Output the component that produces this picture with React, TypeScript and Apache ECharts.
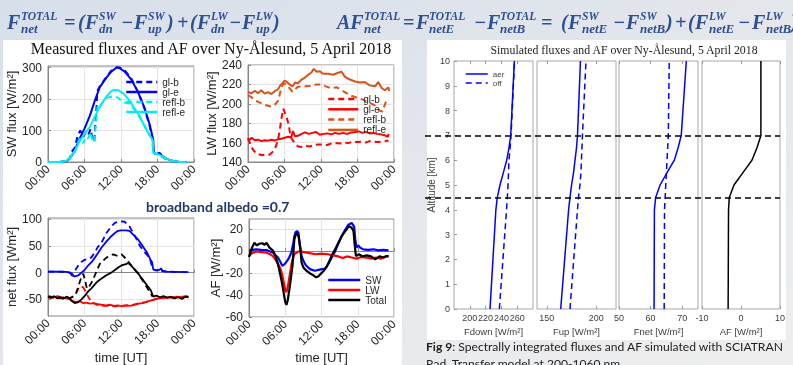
import React, { useEffect, useRef } from 'react';
import * as echarts from 'echarts';

// ---------------- Left figure: measured time series [hour UT, value] ----------------
const TIME_TICKS = [0, 6, 12, 18, 24];

const SW_TICKS = [0, 100, 200, 300];
const SW_GL_B: [number, number][] = [[0,0],[1.9,0],[3.0,2],[3.6,12],[3.8,30],[4.4,45],[4.9,85],[5.3,100],[5.8,80],[6.2,95],[6.6,85],[7.0,105],[7.3,75],[7.6,65],[8.0,180],[8.1,225],[8.5,240],[9.6,270],[10.4,290],[11.3,301],[11.8,300],[12.6,292],[13.7,265],[14.8,222],[15.9,168],[16.7,115],[17.2,65],[17.3,28],[17.8,25],[18.4,30],[18.7,18],[19.5,8],[20.6,2],[21.7,0],[22.8,0]];
const SW_GL_E: [number, number][] = [[0,0],[1.9,0],[3.0,2],[3.6,11],[4.4,36],[5.2,74],[6.0,106],[6.9,148],[7.7,195],[8.5,237],[9.6,268],[10.4,287],[11.3,300],[11.8,298],[12.6,287],[13.7,262],[14.8,222],[15.9,170],[16.7,120],[17.3,71],[17.4,30],[17.8,25],[18.4,28],[18.7,20],[19.5,10],[20.6,3],[21.7,0],[22.8,0]];
const SW_REFL_B: [number, number][] = [[0,0],[1.9,0],[3.0,2],[3.6,12],[4.4,30],[4.9,60],[5.3,75],[5.8,60],[6.2,80],[6.6,75],[7.0,95],[7.3,70],[7.6,62],[8.0,150],[8.2,185],[8.6,180],[9.2,195],[9.8,205],[10.4,207],[11.0,208],[11.6,203],[12.2,192],[12.8,188],[13.4,185],[14.0,172],[14.8,150],[15.9,115],[16.7,85],[17.2,68],[17.3,30],[17.8,25],[18.4,22],[19.5,8],[20.6,2],[21.7,0],[22.8,0]];
const SW_REFL_E: [number, number][] = [[0,0],[1.9,0],[3.0,3],[3.6,15],[4.4,35],[5.2,65],[6.0,90],[6.9,112],[7.7,145],[8.5,175],[9.6,208],[10.4,225],[10.9,229],[11.5,228],[12.4,218],[13.2,200],[14.3,168],[15.1,145],[15.9,112],[16.7,85],[17.2,70],[17.3,30],[17.8,27],[18.4,22],[19.5,10],[20.6,3],[21.7,0],[22.8,0]];

const LW_TICKS = [140, 160, 180, 200, 220, 240];
const LW_GL_B: [number, number][] = [[0,164.5],[0.4,158],[0.8,153],[1.3,149],[1.8,148],[2.4,147],[2.9,148],[3.5,147.5],[4.0,150],[4.5,155],[4.9,162],[5.2,172],[5.5,185],[5.8,195],[6.1,190],[6.4,185],[6.7,178],[7.0,166],[7.4,162],[7.8,158],[8.3,156],[8.9,155.5],[9.5,156.5],[10.2,156],[10.9,157.5],[11.6,158],[12.3,158],[13.0,157.5],[13.7,159],[14.4,159.5],[15.1,159],[15.8,160],[16.5,159.5],[17.2,161],[17.9,160.5],[18.6,161],[19.3,160],[20.0,161.5],[20.7,161],[21.4,160.5],[22.1,161],[22.8,162],[23.1,162]];
const LW_GL_E: [number, number][] = [[0,164.5],[0.3,163],[0.6,165],[1.1,162.5],[1.65,163],[2.2,161.5],[2.75,162.5],[3.3,162],[3.85,163],[4.4,162],[4.95,163.5],[5.5,164],[6.0,165],[6.6,166],[7.1,165.5],[7.4,172],[7.7,166.5],[8.2,167],[8.8,169],[9.4,170.5],[10.0,169],[10.6,170],[11.2,171],[11.8,168],[12.4,169],[13.0,169.5],[13.7,168.5],[14.3,170],[15.0,169],[15.6,170],[16.3,169],[17.0,170.5],[17.6,171],[18.2,171.5],[18.8,170],[19.4,171],[20.0,169.5],[20.6,170],[21.2,169],[21.8,168.5],[22.5,167.5],[23.0,166],[23.1,169]];
const LW_REFL_B: [number, number][] = [[0,209],[0.55,207],[1.1,204],[1.65,202],[2.2,200.5],[2.75,199],[3.3,198],[3.85,197],[4.4,199],[4.95,203],[5.3,212],[5.65,219],[6.0,221],[6.4,219.5],[6.85,216],[7.3,212.5],[7.75,215],[8.2,217.5],[8.8,218],[9.6,218],[10.4,218.5],[11.3,220],[12.0,220],[12.8,218],[13.7,216],[14.6,217],[15.4,214],[16.2,211],[17.1,208],[18.0,206],[19.0,204],[20.0,201],[20.9,198],[21.6,193],[22.1,192],[22.6,201],[23.1,205]];
const LW_REFL_E: [number, number][] = [[0,212.5],[0.55,210.5],[1.1,213.5],[1.65,211],[2.2,214],[2.75,210.5],[3.3,212],[3.85,210],[4.4,213],[4.95,215],[5.3,219],[5.65,221],[6.0,224],[6.4,222.5],[6.85,220],[7.3,218],[7.75,222],[8.2,221],[8.8,225],[9.35,227],[9.9,230],[10.4,232],[10.8,236],[11.3,233],[11.8,233.5],[12.35,231],[13.2,231],[14.0,230],[14.8,232],[15.4,233],[15.9,228],[16.75,225],[17.6,223],[18.4,222],[19.2,222.5],[20.0,219],[20.9,218],[21.4,222.5],[22.0,216],[22.5,214],[23.1,217],[23.2,213]];

const NET_TICKS = [-50, 0, 50, 100];
const NET_SW_B: [number, number][] = [[0,2],[1.5,2],[3.0,1.5],[3.6,0],[4.1,-3],[4.4,3],[4.9,12],[5.5,20],[6.0,24],[6.6,25],[7.1,28],[7.7,38],[8.2,48],[8.8,56],[9.6,74],[10.4,86],[11.0,93],[11.8,96],[12.6,95],[13.4,86],[14.3,68],[15.1,50],[15.9,38],[16.5,30],[16.9,20],[17.2,7],[17.8,4],[18.3,5],[18.6,8],[18.8,3],[19.5,2],[21,1.5],[22.5,1],[23.1,1]];
const NET_SW_E: [number, number][] = [[0,2],[1.5,2],[3.0,1.5],[3.6,0],[3.9,-5],[4.4,-7],[5.0,-5],[5.5,0],[6.0,5],[6.5,12],[7.2,20],[7.7,28],[8.3,38],[8.8,47],[9.6,58],[10.4,68],[11.0,74],[11.5,78],[12.0,79],[12.8,79],[13.4,78],[14.0,71],[14.8,62],[15.6,49],[16.3,37],[16.8,25],[17.1,20],[17.3,6],[17.8,4],[18.3,5],[18.6,8],[18.8,3],[19.5,2],[21,1.5],[22.5,1],[23.1,1]];
const NET_LW_B: [number, number][] = [[0,-46],[1,-47],[2,-48],[3,-46],[3.6,-48],[4.1,-44],[4.6,-38],[5.0,-30],[5.4,-25],[5.8,-28],[6.2,-35],[6.6,-45],[7.2,-55],[8.0,-60],[9.0,-62],[10,-62],[11,-63],[12,-62],[13,-61],[14,-60],[15,-57],[16,-55],[17,-52],[18,-48],[19,-47],[20,-46],[21,-46],[22,-45],[23.1,-45]];
const NET_LW_E: [number, number][] = [[0,-43],[0.8,-46],[1.6,-44],[2.4,-47],[3.0,-48],[3.6,-50],[4.1,-53],[4.6,-55],[5.2,-53],[5.8,-57],[6.3,-56],[6.9,-58],[7.5,-57],[8.2,-59],[8.8,-60],[9.5,-61],[10.2,-60],[10.9,-62],[11.5,-61],[12.2,-63],[12.8,-61],[13.5,-62],[14.2,-60],[14.9,-58],[15.6,-57],[16.3,-54],[17.0,-52],[17.6,-50],[18.3,-48],[19.0,-47],[19.8,-46],[20.5,-47],[21.2,-45],[22.0,-46],[22.6,-44],[23.1,-45]];
const NET_TOT_B: [number, number][] = [[0,-46],[1,-45],[2,-47],[3.0,-46],[3.6,-48],[4.1,-45],[4.6,-40],[5.0,-25],[5.5,-8],[5.8,-2],[6.1,-15],[6.4,-30],[6.8,-25],[7.1,-20],[7.7,-5],[8.5,16],[9.6,28],[10.7,34],[11.5,31],[12.1,34],[12.9,25],[13.7,13],[14.6,1],[15.7,-17],[16.7,-36],[17.2,-45]];
const NET_TOT_E: [number, number][] = [[0,-45],[0.5,-47],[1.0,-44],[1.5,-48],[2.0,-46],[2.5,-49],[3.0,-45],[3.5,-47],[3.8,-52],[4.4,-57],[5.0,-55],[5.5,-50],[6.0,-44],[6.6,-35],[7.1,-30],[7.7,-22],[8.2,-16],[8.8,-11],[9.6,-5],[10.4,0],[11.0,5],[11.6,10],[12.2,14],[12.8,16],[13.2,18],[13.6,14],[14.0,9],[14.6,2],[15.1,-6],[15.7,-15],[16.3,-24],[16.9,-33],[17.3,-45],[17.8,-43],[18.4,-46],[19.0,-44],[19.6,-47],[20.2,-45],[20.8,-48],[21.4,-46],[22.0,-49],[22.6,-45],[23.1,-46]];

const AF_TICKS = [-60, -40, -20, 0, 20];
const AF_SW: [number, number][] = [[0,0.5],[1.2,1.4],[2.0,1],[2.9,0.8],[3.5,-0.5],[4.0,-1.6],[4.4,-4],[4.8,-6],[5.2,-10],[5.5,-13.5],[5.9,-12],[6.3,-9],[6.6,-6.5],[7.0,-1.6],[7.3,6],[7.5,13],[7.7,17],[8.0,18],[8.2,16],[8.4,6],[8.7,-4.6],[9.0,-9],[9.4,-13],[10.1,-16.5],[10.9,-18],[11.7,-17],[12.6,-16],[13.1,-12],[13.7,-6],[14.2,-1],[14.8,7],[15.3,13],[15.9,19],[16.4,23.5],[17.0,25.5],[17.4,22],[17.6,10],[17.8,3],[18.1,5],[18.4,3],[18.9,1.4],[19.7,1],[20.6,1.5],[21.4,0.5],[22.2,1],[23.1,0.5]];
const AF_LW: [number, number][] = [[0,-4.6],[0.5,-2],[1.2,-0.5],[2.0,-1],[2.9,-1.6],[3.5,-3],[4.0,-5],[4.4,-8],[4.8,-12],[5.2,-16],[5.5,-22],[5.8,-30],[6.0,-36],[6.2,-37.5],[6.5,-30],[6.8,-20],[7.1,-10],[7.5,-3],[8.0,-1],[8.5,0],[9.0,-1],[10.0,-2],[11.0,-3],[12.0,-2.5],[13.0,-3],[14.0,-4],[14.8,-5],[15.5,-6.5],[16.2,-5],[17.0,-6],[17.8,-7],[18.6,-5.5],[19.4,-6],[20.2,-7],[21.0,-6],[21.8,-7],[22.6,-5],[23.1,-5]];
const AF_TOTAL: [number, number][] = [[0,-5.5],[0.5,3],[0.9,7.4],[1.3,5],[1.7,6.5],[2.2,7],[2.6,5.5],[2.9,7.4],[3.4,3],[4.0,0],[4.4,-5],[4.8,-12],[5.2,-22],[5.5,-30],[5.8,-40],[6.0,-46.5],[6.2,-49],[6.4,-45],[6.7,-34.5],[7.0,-22],[7.2,-13.5],[7.5,10.4],[7.7,14],[7.9,16.4],[8.2,13.4],[8.5,2],[8.7,-10.6],[9.0,-15],[9.5,-18],[10.0,-20],[10.6,-22],[11.1,-24],[11.5,-23],[12.0,-20],[12.4,-18],[12.9,-14],[13.4,-8],[13.8,-3],[14.3,2],[14.8,7.4],[15.4,14],[16.0,18.5],[16.5,22.4],[17.0,21],[17.3,18],[17.5,5],[17.7,-4.6],[18.2,-3],[18.8,-5],[19.5,-4],[20.2,-5],[20.9,-7.6],[21.6,-5],[22.3,-6],[22.8,-4.6],[23.1,-5]];

// ---------------- Right figure: simulated profiles vs altitude ----------------
const ALT_TICKS = [0, 1, 2, 3, 4, 5, 6, 7, 8, 9, 10];
const ALT_KM = [0, 4, 4.5, 5, 5.5, 6, 6.5, 7, 10];
const FDOWN_AER = [225.6, 233, 234.8, 238.2, 242.5, 246.7, 249.6, 251.8, 256.4];
const FDOWN_OFF = [237.4, 246.5, 247.5, 248.4, 249, 249.6, 251, 252.2, 256.6];
const FUP_AER = [164, 172, 173.4, 175, 177, 178.5, 180, 181, 184];
const FUP_OFF = [173.4, 181, 182, 183.5, 184.5, 185, 185.5, 186, 189.6];
const FNET_AER = [61.1, 61.2, 61.6, 63, 65.2, 67.5, 68.7, 69.7, 71.3];
const FNET_OFF = [64.3, 64.4, 64.6, 64.8, 65, 65.2, 65.4, 65.6, 65.9];
const AF_PROFILE = [-3.3, -3.2, -3.0, -1.8, 0.5, 2.8, 4.1, 5.1, 5.1];
const LAYER_ALTS = [4.5, 7];
const FDOWN_TICKS = [200, 220, 240, 260];
const FUP_TICKS = [150, 200];
const FNET_TICKS = [50, 60, 70];
const AFP_TICKS = [-10, 0, 10];

// ---------------- Styles ----------------
const SANS = '"Liberation Sans", Arial, sans-serif';
const SERIF = '"Liberation Serif", "Times New Roman", serif';
const MATH = '"Liberation Serif", serif';
const NAVY = '#2f4f93';
const BLUE = '#0000ff';
const CYAN = '#00eef2';
const RED = '#ff0000';
const ORANGE = '#d95319';
const DASH = [6, 4];

type Tok = { t: string; x: number } | { b: string; x: number; sup: string; sub: string; sx: number };
const FORMULA_1: Tok[] = [
  { b: 'F', x: 7, sup: 'TOTAL', sub: 'net', sx: 21 },
  { t: '=', x: 64 }, { t: '(', x: 78 },
  { b: 'F', x: 85, sup: 'SW', sub: 'dn', sx: 99 },
  { t: '−', x: 121 },
  { b: 'F', x: 134, sup: 'SW', sub: 'up', sx: 148 },
  { t: ')', x: 167 }, { t: '+', x: 177 }, { t: '(', x: 190 },
  { b: 'F', x: 197, sup: 'LW', sub: 'dn', sx: 211 },
  { t: '−', x: 229 },
  { b: 'F', x: 242, sup: 'LW', sub: 'up', sx: 256 },
  { t: ')', x: 273 },
];
const FORMULA_2: Tok[] = [
  { b: 'AF', x: 337, sup: 'TOTAL', sub: 'net', sx: 364 },
  { t: '=', x: 403 },
  { b: 'F', x: 416, sup: 'TOTAL', sub: 'netE', sx: 429 },
  { t: '−', x: 474 },
  { b: 'F', x: 487, sup: 'TOTAL', sub: 'netB', sx: 500 },
  { t: '=', x: 541 },
  { t: '(', x: 561 },
  { b: 'F', x: 568, sup: 'SW', sub: 'netE', sx: 582 },
  { t: '−', x: 613 },
  { b: 'F', x: 626, sup: 'SW', sub: 'netB', sx: 640 },
  { t: ')', x: 666 }, { t: '+', x: 675 }, { t: '(', x: 688 },
  { b: 'F', x: 695, sup: 'LW', sub: 'netE', sx: 709 },
  { t: '−', x: 738 },
  { b: 'F', x: 752, sup: 'LW', sub: 'netB', sx: 766 },
  { t: ')', x: 791 },
];

function txt(text: string, x: number, y: number, font: string, fill: string, align = 'left', extra: any = {}) {
  return {
    type: 'text', x, y, z: 50, silent: true,
    style: { text, x: 0, y: 0, font, fill, align, textAlign: align, verticalAlign: 'middle', textVerticalAlign: 'middle', ...extra },
  };
}

function formula(tokens: Tok[]) {
  const els: any[] = [];
  const base = `italic bold 20px ${MATH}`;
  const sup = `italic bold 11.5px ${MATH}`;
  const sub = `italic bold 13px ${MATH}`;
  for (const tk of tokens) {
    if ('t' in tk) els.push(txt(tk.t, tk.x, 22, base, NAVY));
    else {
      els.push(txt(tk.b, tk.x, 22, base, NAVY));
      els.push(txt(tk.sup, tk.sx, 16, sup, NAVY, 'left', { lineHeight: 10 }));
      els.push(txt(tk.sub, tk.sx, 28, sub, NAVY, 'left', { lineHeight: 11 }));
    }
  }
  return els;
}

const timeFmt = (v: number) => (v % 24 === 0 ? '00' : String(v).padStart(2, '0')) + ':00';
const legendFmt = (n: string) => n.split('|')[1];

function line(name: string, data: any[], ax: number, color: string, dashed: boolean, width: number, z = 2) {
  return {
    type: 'line', name, data, xAxisIndex: ax, yAxisIndex: ax, symbol: 'none', showSymbol: false, silent: true, z,
    lineStyle: { color, width, type: dashed ? DASH : 'solid' }, itemStyle: { color },
  };
}

const prof = (vals: number[]) => vals.map((v, i) => [v, ALT_KM[i]]);

function leftX(grid: number, name?: string, gap = 34) {
  return {
    type: 'value', gridIndex: grid, min: 0, max: 24, name, nameLocation: 'middle', nameGap: gap,
    nameTextStyle: { fontFamily: SANS, fontSize: 13, color: '#262626' },
    axisLine: { show: true, lineStyle: { color: '#888' } },
    axisTick: { show: true, inside: true, length: 3, customValues: TIME_TICKS, lineStyle: { color: '#888' } },
    axisLabel: { customValues: TIME_TICKS, formatter: timeFmt, rotate: 45, margin: 5, fontFamily: SANS, fontSize: 12, color: '#262626' },
    splitLine: { show: true, lineStyle: { color: '#e4e4e4' } },
  };
}
function leftY(grid: number, min: number, max: number, ticks: number[], name: string, gap: number) {
  return {
    type: 'value', gridIndex: grid, min, max, name, nameLocation: 'middle', nameGap: gap,
    nameTextStyle: { fontFamily: SANS, fontSize: 13, color: '#262626' },
    axisLine: { show: true, lineStyle: { color: '#888' } },
    axisTick: { show: true, inside: true, length: 3, customValues: ticks, lineStyle: { color: '#888' } },
    axisLabel: { customValues: ticks, margin: 6, fontFamily: SANS, fontSize: 12, color: '#262626' },
    splitLine: { show: true, lineStyle: { color: '#e4e4e4' } },
  };
}
function rightX(grid: number, min: number, max: number, ticks: number[], name: string | undefined, top = false) {
  return {
    type: 'value', gridIndex: grid, min, max, position: top ? 'top' : 'bottom',
    name, nameLocation: 'middle', nameGap: 14,
    nameTextStyle: { fontFamily: SANS, fontSize: 9.5, color: '#404040' },
    axisLine: { show: false },
    axisTick: { show: true, inside: true, length: 3, customValues: ticks, lineStyle: { color: '#999' } },
    axisLabel: { show: !top, customValues: ticks, margin: 4, fontFamily: SANS, fontSize: 9, color: '#404040' },
    splitLine: { show: false },
  };
}
function rightY(grid: number, first: boolean) {
  return {
    type: 'value', gridIndex: grid, min: 0, max: 10,
    name: first ? 'Altitude [km]' : undefined, nameLocation: 'middle', nameGap: 15,
    nameTextStyle: { fontFamily: SANS, fontSize: 10, color: '#404040' },
    axisLine: { show: false },
    axisTick: { show: first, inside: true, length: 3, customValues: ALT_TICKS, lineStyle: { color: '#999' } },
    axisLabel: { show: first, customValues: ALT_TICKS, margin: 4, fontFamily: SANS, fontSize: 9, color: '#404040' },
    splitLine: { show: false },
  };
}

export default function App() {
  const ref = useRef<HTMLDivElement>(null);
  useEffect(() => {
    if (!ref.current) return;
    const chart = echarts.init(ref.current, undefined, { renderer: 'svg' });
    const leftBox = { show: true, backgroundColor: '#fff', borderColor: '#888', borderWidth: 1 };
    const rightBox = { show: true, backgroundColor: '#fff', borderColor: '#a8a8a8', borderWidth: 1 };
    const option: any = {
      animation: false,
      backgroundColor: 'transparent',
      grid: [
        { left: 48, top: 66, width: 146, height: 96, ...leftBox },
        { left: 248, top: 65, width: 146, height: 97, ...leftBox },
        { left: 48, top: 218, width: 146, height: 99, ...leftBox },
        { left: 249, top: 219, width: 145, height: 99, ...leftBox },
        { left: 454, top: 61, width: 79, height: 248, ...rightBox },
        { left: 537, top: 61, width: 79, height: 248, ...rightBox },
        { left: 619, top: 61, width: 79, height: 248, ...rightBox },
        { left: 702, top: 61, width: 78, height: 248, ...rightBox },
        { left: 425, top: 61, width: 355, height: 248, show: false },
      ],
      xAxis: [
        leftX(0), leftX(1), leftX(2, 'time [UT]', 35), leftX(3, 'time [UT]', 34),
        rightX(4, 180, 280, FDOWN_TICKS, 'Fdown [W/m²]'),
        rightX(5, 140, 220, FUP_TICKS, 'Fup [W/m²]'),
        rightX(6, 50, 75, FNET_TICKS, 'Fnet [W/m²]'),
        rightX(7, -10, 10, AFP_TICKS, 'AF [W/m²]'),
        { type: 'value', gridIndex: 8, min: 0, max: 1, show: false },
        rightX(4, 180, 280, FDOWN_TICKS, undefined, true),
        rightX(5, 140, 220, FUP_TICKS, undefined, true),
        rightX(6, 50, 75, FNET_TICKS, undefined, true),
        rightX(7, -10, 10, AFP_TICKS, undefined, true),
      ],
      yAxis: [
        leftY(0, 0, 305, SW_TICKS, 'SW flux [W/m²]', 30),
        leftY(1, 140, 240, LW_TICKS, 'LW flux [W/m²]', 29),
        leftY(2, -81, 102, NET_TICKS, 'net flux [Wm²]', 30),
        leftY(3, -60, 29, AF_TICKS, 'AF [W/m²]', 26),
        rightY(4, true), rightY(5, false), rightY(6, false), rightY(7, false),
        { type: 'value', gridIndex: 8, min: 0, max: 10, show: false },
      ],
      legend: [
        { data: ['sw|gl-b', 'sw|gl-e', 'sw|refl-b', 'sw|refl-e'], left: 125, top: 77, orient: 'vertical', padding: 0,
          itemWidth: 31, itemHeight: 8, itemGap: 0, formatter: legendFmt, selectedMode: false,
          itemStyle: { opacity: 0 }, lineStyle: { width: 2.5 },
          textStyle: { fontFamily: SANS, fontSize: 10, lineHeight: 10, color: '#262626' } },
        { data: ['lw|gl-b', 'lw|gl-e', 'lw|refl-b', 'lw|refl-e'], left: 327, top: 94, orient: 'vertical', padding: 0,
          itemWidth: 30, itemHeight: 8, itemGap: 0.3, formatter: legendFmt, selectedMode: false,
          itemStyle: { opacity: 0 }, lineStyle: { width: 2.5 },
          textStyle: { fontFamily: SANS, fontSize: 10, lineHeight: 10, color: '#262626' } },
        { data: ['af|SW', 'af|LW', 'af|Total'], left: 325, top: 273, orient: 'vertical', padding: [2, 6, 2, 2],
          backgroundColor: '#fff',
          itemWidth: 32, itemHeight: 8, itemGap: 0, formatter: legendFmt, selectedMode: false,
          itemStyle: { opacity: 0 }, lineStyle: { width: 2.5 },
          textStyle: { fontFamily: SANS, fontSize: 10, lineHeight: 10, color: '#262626' } },
        { data: ['fd|aer', 'fd|off'], left: 465, top: 69.5, orient: 'vertical', padding: 0,
          itemWidth: 22, itemHeight: 7, itemGap: 0, formatter: legendFmt, selectedMode: false,
          itemStyle: { opacity: 0 }, lineStyle: { width: 1.5 },
          textStyle: { fontFamily: SANS, fontSize: 8, lineHeight: 9, color: '#404040' } },
      ],
      series: [
        line('sw|gl-b', SW_GL_B, 0, BLUE, true, 2),
        line('sw|gl-e', SW_GL_E, 0, BLUE, false, 2),
        line('sw|refl-b', SW_REFL_B, 0, CYAN, true, 2),
        line('sw|refl-e', SW_REFL_E, 0, CYAN, false, 2),
        line('lw|gl-b', LW_GL_B, 1, RED, true, 2),
        line('lw|gl-e', LW_GL_E, 1, RED, false, 2),
        line('lw|refl-b', LW_REFL_B, 1, ORANGE, true, 2),
        line('lw|refl-e', LW_REFL_E, 1, ORANGE, false, 2),
        line('net|swb', NET_SW_B, 2, BLUE, true, 1.8),
        line('net|swe', NET_SW_E, 2, BLUE, false, 1.8),
        line('net|lwb', NET_LW_B, 2, RED, true, 1.8),
        line('net|lwe', NET_LW_E, 2, RED, false, 1.8),
        line('net|totb', NET_TOT_B, 2, '#000', true, 1.8),
        line('net|tote', NET_TOT_E, 2, '#000', false, 1.8),
        line('af|SW', AF_SW, 3, BLUE, false, 2.2),
        line('af|LW', AF_LW, 3, RED, false, 2.2),
        line('af|Total', AF_TOTAL, 3, '#000', false, 2.2),
        line('fd|aer', prof(FDOWN_AER), 4, BLUE, false, 1.5),
        line('fd|off', prof(FDOWN_OFF), 4, BLUE, true, 1.5),
        line('fu|aer', prof(FUP_AER), 5, BLUE, false, 1.5),
        line('fu|off', prof(FUP_OFF), 5, BLUE, true, 1.5),
        line('fn|aer', prof(FNET_AER), 6, BLUE, false, 1.5),
        line('fn|off', prof(FNET_OFF), 6, BLUE, true, 1.5),
        line('afp|AF', prof(AF_PROFILE), 7, '#000', false, 1.5),
        {
          type: 'line', name: 'layers', xAxisIndex: 8, yAxisIndex: 8, data: [[0, 0]], symbol: 'none', silent: true,
          lineStyle: { opacity: 0 }, z: 10,
          markLine: {
            silent: true, symbol: 'none', label: { show: false },
            lineStyle: { color: '#000', type: DASH, width: 1.5 },
            data: LAYER_ALTS.map((a) => ({ yAxis: a })),
          },
        },
      ],
      graphic: [
        {
          type: 'rect', z: -100, silent: true, shape: { x: 0, y: 0, width: 793, height: 365 },
          style: { fill: new echarts.graphic.LinearGradient(0, 0, 1, 1, [
            { offset: 0, color: '#d7dfea' }, { offset: 0.6, color: '#e6e8ec' }, { offset: 1, color: '#eeeeee' }]) },
        },
        { type: 'rect', z: -90, silent: true, shape: { x: 3, y: 40, width: 399, height: 325 }, style: { fill: '#fff' } },
        { type: 'rect', z: -90, silent: true, shape: { x: 427, y: 40, width: 359, height: 300 }, style: { fill: '#fff' } },
        ...formula(FORMULA_1),
        ...formula(FORMULA_2),
        txt('Measured fluxes and AF over Ny-Ålesund, 5 April 2018', 211, 48, `16px ${SERIF}`, '#111', 'center'),
        txt('Simulated fluxes and AF over Ny-Ålesund, 5 April 2018', 624, 50, `11.8px ${SERIF}`, '#222', 'center'),
        txt('broadband albedo =0.7', 146, 206, `bold 14px Lato, ${SANS}`, '#1f3864'),
        {
          type: 'text', x: 426, y: 346, z: 50, silent: true,
          style: {
            text: '{b|Fig 9}: Spectrally integrated fluxes and AF simulated with SCIATRAN',
            font: `12.1px Lato, ${SANS}`, fill: '#222', verticalAlign: 'middle', textVerticalAlign: 'middle',
            rich: { b: { fontWeight: 'bold', fontFamily: 'Lato', fontSize: 12.1, fill: '#222', color: '#222' } },
          },
        },
        txt('Rad. Transfer model at 200-1060 nm', 426, 363, `12.1px Lato, ${SANS}`, '#222'),
      ],
    };
    chart.setOption(option);
    return () => chart.dispose();
  }, []);
  return <div ref={ref} style={{ position: 'fixed', left: 0, top: 0, width: 793, height: 365 }} />;
}
